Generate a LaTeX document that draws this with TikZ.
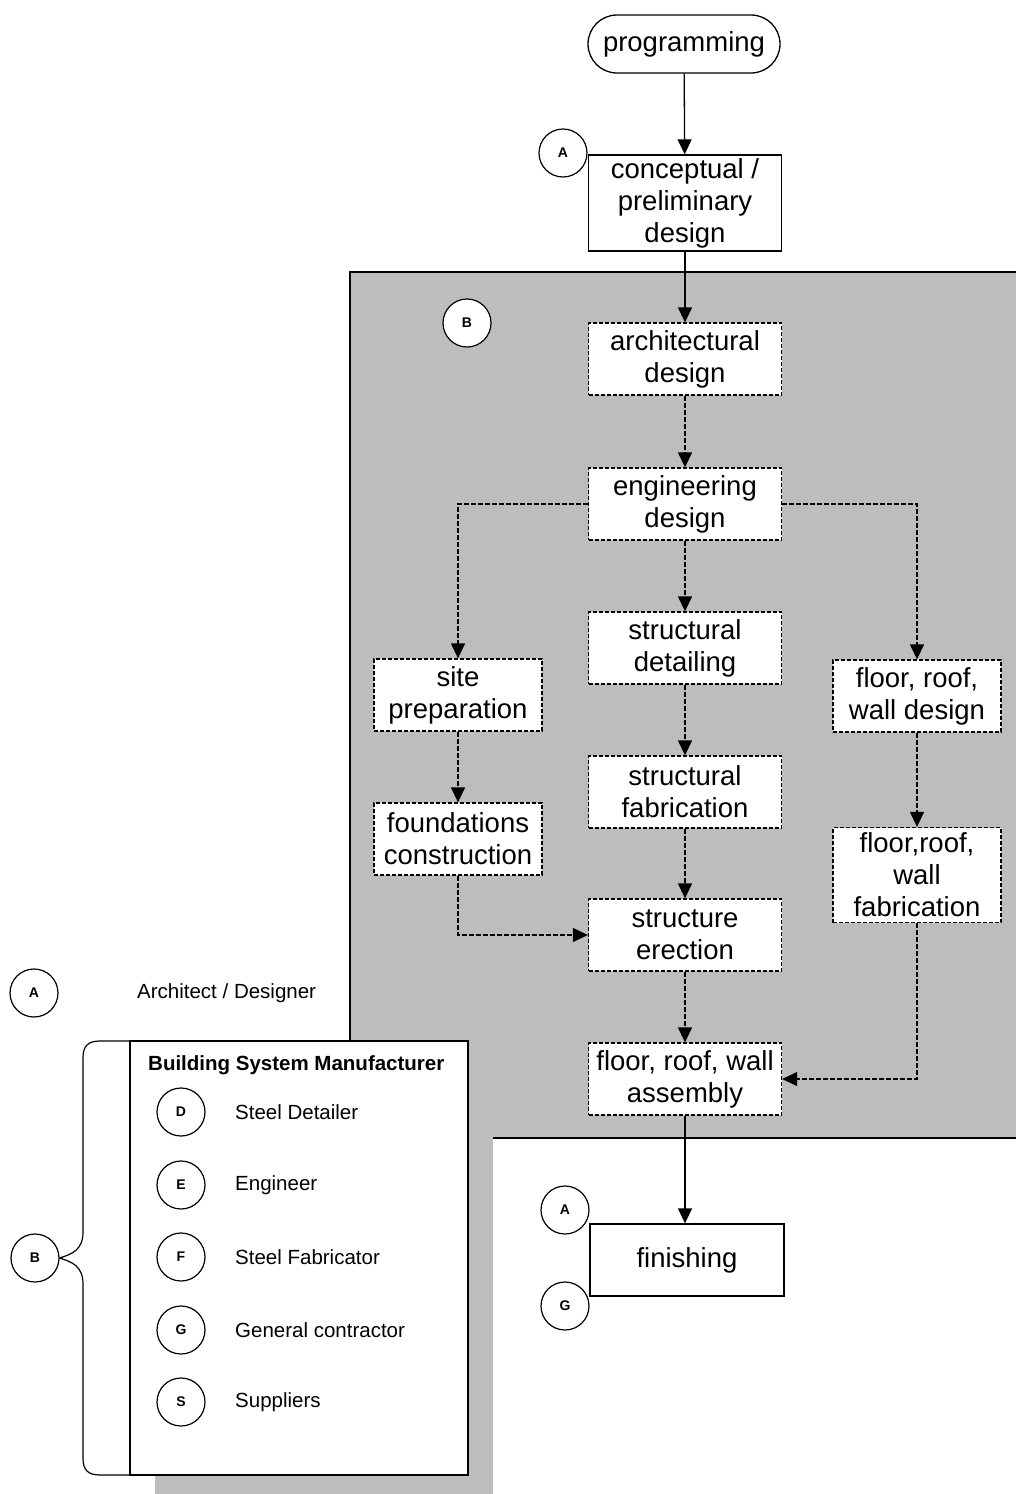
\documentclass[tikz,border=0pt]{standalone}
\usepackage{fontspec}
\setmainfont{Liberation Sans}
\usetikzlibrary{arrows.meta,shapes.misc}
\begin{document}
\begin{tikzpicture}[x=1pt,y=-1pt,
  box/.style={draw, fill=white, line width=1.3pt, minimum width=193pt, minimum height=72pt,
    align=center, inner sep=0pt, font=\fontsize{27.5}{32}\selectfont},
  dbox/.style={box, dash pattern=on 4pt off 2pt},
  circ/.style={circle, draw, fill=white, line width=1.2pt, minimum size=48pt, inner sep=0pt,
    font=\fontsize{14}{14}\selectfont\bfseries},
  arr/.style={-{Triangle[length=15pt,width=14pt]}, line width=1.3pt},
  darr/.style={arr, dash pattern=on 5pt off 2pt},
  legtext/.style={anchor=west, inner sep=0pt, font=\fontsize{20.5}{24}\selectfont},
  legline/.style={line width=1.2pt},
  halftone/.style={fill=black!26}
]
\useasboundingbox (0,0) rectangle (1016,1494);

% gray region (building system manufacturer domain)
\fill[halftone] (350,272) rectangle (1016,1138);
\draw[line width=1.6pt] (1016,272) -- (350,272) -- (350,1138) -- (1016,1138);

% flow nodes
\node[box, rounded rectangle, minimum width=192pt, minimum height=58pt] (prog) at (684,44) {programming};
\node[box, minimum height=96pt] (concept) at (685,203) {conceptual /\\preliminary\\design};
\node[dbox] (arch) at (685,359) {architectural\\design};
\node[dbox] (eng) at (685,504) {engineering\\design};
\node[dbox] (sdet) at (685,648) {structural\\detailing};
\node[dbox, minimum width=168pt] (site) at (458,695) {site\\preparation};
\node[dbox, minimum width=168pt] (fdes) at (917,696) {floor, roof,\\wall design};
\node[dbox, minimum width=168pt] (found) at (458,839) {foundations\\construction};
\node[dbox] (sfab) at (685,792) {structural\\fabrication};
\node[dbox, minimum width=168pt, minimum height=95pt] (ffab) at (917,875) {floor,roof,\\wall\\fabrication};
\node[dbox] (erect) at (685,935) {structure\\erection};
\node[dbox] (assem) at (685,1079) {floor, roof, wall\\assembly};
\node[box, minimum width=194pt] (fin) at (687,1260) {finishing};

% role circles
\node[circ] (cA1) at (563,153) {A};
\node[circ] (cB1) at (467,323) {B};
\node[circ] (cA2) at (565,1210) {A};
\node[circ] (cG2) at (565,1306) {G};

% connectors
\draw[arr] (prog) -- (concept);
\draw[arr] (concept) -- (arch);
\draw[darr] (arch) -- (eng);
\draw[darr] (eng) -- (sdet);
\draw[darr] (eng.west) -| (site.north);
\draw[darr] (eng.east) -| (fdes.north);
\draw[darr] (site) -- (found);
\draw[darr] (sdet) -- (sfab);
\draw[darr] (sfab) -- (erect);
\draw[darr] (fdes) -- (ffab);
\draw[darr] (found.south) |- (erect.west);
\draw[darr] (erect) -- (assem);
\draw[darr] (ffab.south) |- (assem.east);
\draw[arr] (assem.south) -- (assem.south |- fin.north);

% legend
\node[circ] (lA) at (34,993) {A};
\node[legtext] (tA) at (137,993) {Architect / Designer};

\fill[halftone] (155,1066) rectangle (493,1500);
\draw[legline, fill=white] (130,1041) rectangle (468,1475);

\node[circ] (lB) at (35,1258) {B};
\draw[legline] (lB.east) .. controls (72,1254) and (83,1250) .. (83,1232) -- (83,1058)
  .. controls (83,1046) and (88,1041) .. (100,1041) -- (130,1041);
\draw[legline] (lB.east) .. controls (72,1262) and (83,1266) .. (83,1284) -- (83,1458)
  .. controls (83,1470) and (88,1475) .. (100,1475) -- (130,1475);

\node[legtext, font=\fontsize{20.5}{24}\selectfont\bfseries] (tBSM) at (148,1065) {Building System Manufacturer};
\node[circ] (lD) at (181,1112) {D};
\node[legtext] (tD) at (235,1112) {Steel Detailer};
\node[circ] (lE) at (181,1185) {E};
\node[legtext] (tE) at (235,1185) {Engineer};
\node[circ] (lF) at (181,1257) {F};
\node[legtext] (tF) at (235,1257) {Steel Fabricator};
\node[circ] (lG) at (181,1330) {G};
\node[legtext] (tG) at (235,1330) {General contractor};
\node[circ] (lS) at (181,1402) {S};
\node[legtext] (tS) at (235,1402) {Suppliers};
\end{tikzpicture}
\end{document}
